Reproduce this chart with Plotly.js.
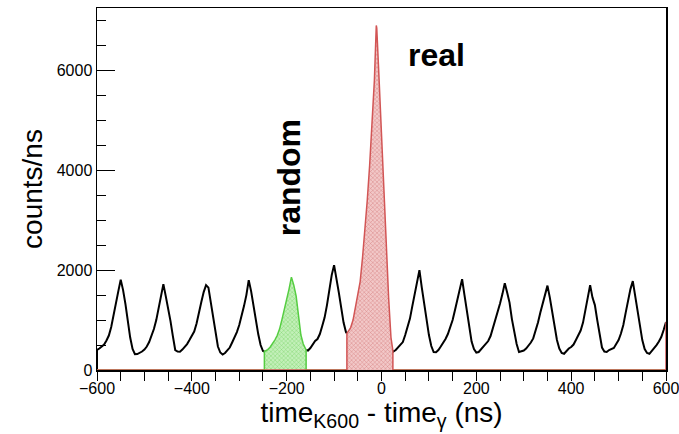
<!DOCTYPE html>
<html>
<head>
<meta charset="utf-8">
<script src="https://cdn.plot.ly/plotly-3.0.1.min.js"></script>
<style>
  html, body { margin: 0; padding: 0; background: #ffffff; }
  #chart { width: 679px; height: 434px; }
</style>
</head>
<body>
<div id="chart"></div>
<script>
// time difference (ns) of each sample
const timeNs = [
  -600,-595,-590,-585,-580,-575,-570,-565,-560,-555,-550,-545,-540,-535,-530,-525,-520,-515,-510,-505,
  -500,-495,-490,-485,-480,-475,-470,-465,-460,-455,-450,-445,-440,-435,-430,-425,-420,-415,-410,-405,
  -400,-395,-390,-385,-380,-375,-370,-365,-360,-355,-350,-345,-340,-335,-330,-325,-320,-315,-310,-305,
  -300,-295,-290,-285,-280,-275,-270,-265,-260,-255,-250,-247,-245,-240,-235,-230,-225,-220,-215,-210,
  -205,-200,-195,-190,-185,-180,-175,-170,-165,-160,-159,-155,-150,-145,-140,-135,-130,-125,-120,-115,
  -110,-105,-100,-95,-90,-85,-80,-75,-73,-70,-65,-60,-55,-50,-45,-40,-35,-30,-25,-20,
  -15,-11,-10,-5,0,5,10,15,20,24,25,30,35,40,45,50,55,60,65,70,
  75,80,85,90,95,100,105,110,115,120,125,130,135,140,145,150,155,160,165,170,
  175,180,185,190,195,200,205,210,215,220,225,230,235,240,245,250,255,260,265,270,
  275,280,285,290,295,300,305,310,315,320,325,330,335,340,345,350,355,360,365,370,
  375,380,385,390,395,400,405,410,415,420,425,430,435,440,445,450,455,460,465,470,
  475,480,485,490,495,500,505,510,515,520,525,530,535,540,545,550,555,560,565,570,
  575,580,585,590,595,600
];
// counts/ns read at each time above
const countsPerNs = [
  400,430,470,510,590,690,860,1080,1330,1580,1810,1600,1320,950,650,420,315,320,340,370,
  410,470,560,680,820,1000,1230,1470,1720,1480,1250,980,680,400,370,365,410,460,520,600,
  680,770,930,1120,1360,1560,1700,1650,1350,1070,750,470,350,310,340,390,450,550,640,760,
  900,1070,1280,1500,1800,1580,1270,960,720,500,380,370,380,410,455,520,600,690,820,1010,
  1200,1400,1620,1860,1700,1480,1100,700,520,410,400,390,440,520,580,620,720,880,1050,1300,
  1600,1900,2100,1850,1550,1250,950,760,733,780,850,1000,1260,1500,1770,2250,2800,3400,4100,4950,
  5800,6900,6850,5800,4800,3800,2550,1450,650,390,370,400,450,520,560,700,850,1030,1280,1540,
  1800,2000,1650,1330,1000,700,480,360,355,400,470,540,620,720,860,1000,1200,1420,1640,1820,
  1500,1200,880,570,420,350,360,420,470,520,580,680,840,1000,1120,1330,1520,1740,1550,1350,
  1020,770,520,360,370,390,430,480,550,633,780,950,1150,1350,1520,1690,1450,1150,850,600,
  430,340,325,380,430,460,510,600,700,790,950,1200,1450,1700,1450,1300,1000,700,450,370,
  360,400,420,440,520,600,730,900,1150,1400,1620,1780,1480,1200,900,600,420,340,325,380,
  450,500,570,660,800,960
];
// selection windows (ns)
const randomWindow = [-247, -159];
const realWindow = [-73, 24];
const yTickValues = [0, 2000, 4000, 6000];
const xTickValues = [-600, -400, -200, 0, 200, 400, 600];

function inside(t, w) { return t > w[0] && t < w[1]; }
function windowTrace(w, extendRight) {
  const xs = [timeNs[0], w[0]], ys = [0, 0];
  for (let i = 0; i < timeNs.length; i++) {
    if (timeNs[i] >= w[0] && timeNs[i] <= w[1]) { xs.push(timeNs[i]); ys.push(countsPerNs[i]); }
  }
  xs.push(w[1], timeNs[timeNs.length - 1]); ys.push(0, 0);
  if (extendRight) { xs.push(timeNs[timeNs.length - 1]); ys.push(countsPerNs[countsPerNs.length - 1]); }
  return { xs, ys };
}

const blackX = [timeNs[0]].concat(timeNs);
const blackY = [0].concat(countsPerNs.map((v, i) =>
  (inside(timeNs[i], randomWindow) || inside(timeNs[i], realWindow)) ? null : v));

const g = windowTrace(randomWindow, false);
const r = windowTrace(realWindow, true);

const traces = [
  { x: blackX, y: blackY, type: 'scatter', mode: 'lines', connectgaps: false,
    line: { color: '#000000', width: 2 }, hoverinfo: 'skip' },
  { x: g.xs, y: g.ys, type: 'scatter', mode: 'lines', fill: 'tozeroy',
    fillcolor: 'rgba(175,230,165,1)',
    fillpattern: { shape: 'x', bgcolor: 'rgb(195,240,185)', fgcolor: 'rgb(120,210,100)', size: 3, solidity: 0.25 },
    line: { color: 'rgb(85,205,65)', width: 1.5 }, hoverinfo: 'skip' },
  { x: r.xs, y: r.ys, type: 'scatter', mode: 'lines', fill: 'tozeroy',
    fillcolor: 'rgba(232,175,175,1)',
    fillpattern: { shape: 'x', bgcolor: 'rgb(242,200,200)', fgcolor: 'rgb(210,120,120)', size: 3, solidity: 0.25 },
    line: { color: 'rgb(210,85,85)', width: 1.5 }, hoverinfo: 'skip' }
];

const font = 'Liberation Sans, Arial, Helvetica, sans-serif';
const layout = {
  width: 679, height: 434,
  margin: { l: 97, r: 13, t: 8, b: 64 },
  paper_bgcolor: '#ffffff', plot_bgcolor: '#ffffff',
  showlegend: false,
  font: { family: font, color: '#000000' },
  xaxis: {
    range: [-600, 600], tickvals: xTickValues, ticks: 'outside', ticklen: 9, tickwidth: 1, tickcolor: '#000',
    minor: { dtick: 50, tick0: 0, ticks: 'outside', ticklen: 9, tickwidth: 1, tickcolor: '#000' },
    showgrid: false, zeroline: false, showline: true, mirror: true, linecolor: '#000', linewidth: 1.5,
    ticklabeloverflow: 'allow', ticklabelstandoff: -6,
    tickfont: { family: font, size: 16, color: '#000' },
    title: { text: 'time<sub>K600</sub> - time<sub>γ</sub> (ns)', font: { family: font, size: 28, color: '#000' }, standoff: 4 }
  },
  yaxis: {
    range: [0, 7250], tickvals: yTickValues, ticks: 'inside', ticklen: 18, tickwidth: 1, tickcolor: '#000',
    minor: { dtick: 500, tick0: 0, ticks: 'inside', ticklen: 9, tickwidth: 1, tickcolor: '#000' },
    showgrid: false, zeroline: false, showline: true, mirror: true, linecolor: '#000', linewidth: 1.5,
    tickfont: { family: font, size: 16, color: '#000' },
    title: { text: 'counts/ns', font: { family: font, size: 28, color: '#000' }, standoff: 6 }
  },
  annotations: [
    { x: 117, y: 6300, xref: 'x', yref: 'y', text: '<b>real</b>', showarrow: false,
      font: { family: font, size: 32, color: '#000' } },
    { x: -195, y: 3840, xref: 'x', yref: 'y', text: '<b>random</b>', showarrow: false, textangle: -90,
      font: { family: font, size: 32, color: '#000' } }
  ]
};

Plotly.newPlot('chart', traces, layout, { staticPlot: true, displayModeBar: false });
</script>
</body>
</html>
